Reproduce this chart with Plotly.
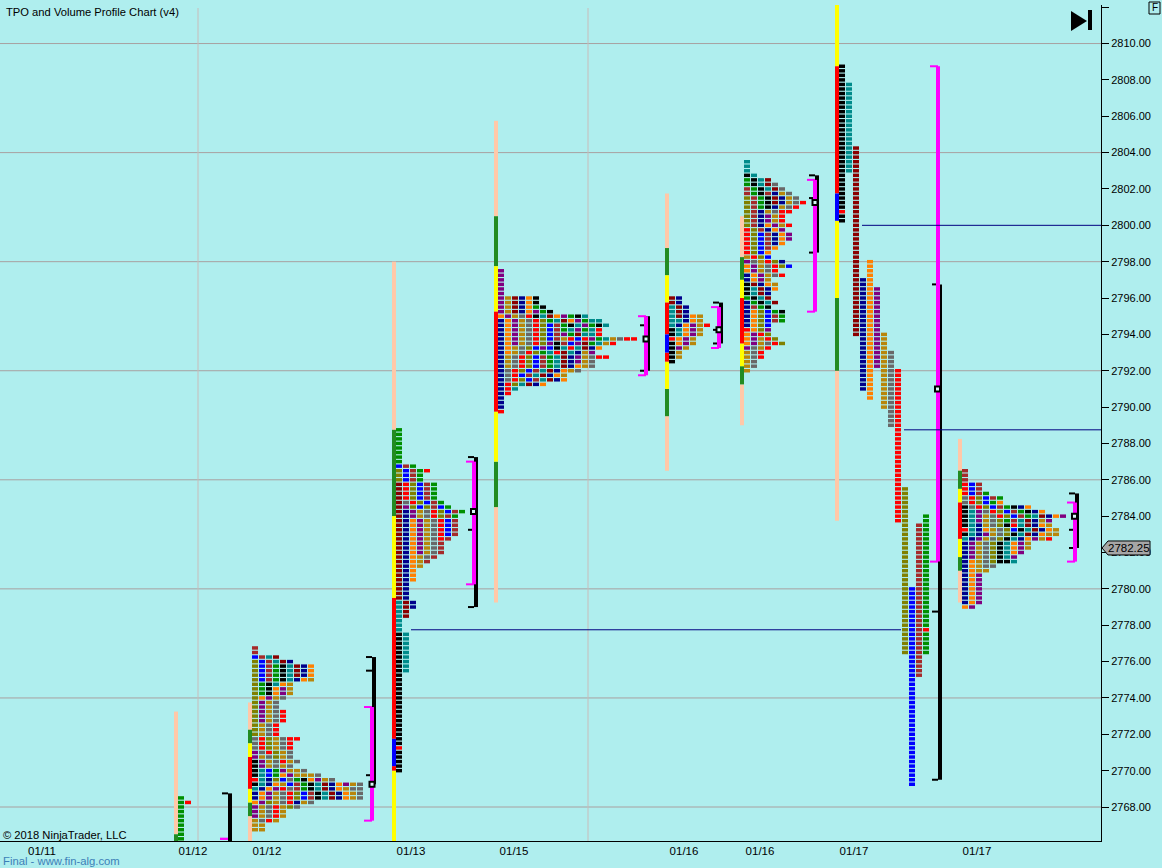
import plotly.graph_objects as go

# ---------- data ----------
W, H = 1162, 868
L, R, T, B = 0, 61, 5, 27
PLOT_W = W - L - R
PLOT_H = H - T - B
Y_MIN, Y_MAX = 2766.13, 2812.12
ROW = 0.25
CELL_PITCH = 7
CELL_W = 6
STRIP_W = 4

y_tick_vals = [2768 + 2 * i for i in range(23)]
y_tick_text = [f"{v:.2f}" for v in y_tick_vals[:-1]] + [""]
grid_prices = [2768, 2774, 2780, 2786, 2792, 2798, 2804, 2810]
session_lines = [198, 588]
date_pos = [42, 193, 267, 411, 514, 684, 760, 854, 977]
date_text = ["01/11", "01/12", "01/12", "01/13", "01/15", "01/16", "01/16", "01/17", "01/17"]

COLORS = {
    "K": "#000000", "R": "#FF0000", "B": "#0000FF", "N": "#00008B", "T": "#008B8B",
    "M": "#8B0000", "A": "#A52A2A", "O": "#FF8000", "P": "#800080", "D": "#B8860B",
    "G": "#696969", "V": "#808000", "E": "#008F00",
}
STRIP = {"S": "#FFC8A8", "F": "#228B22", "Y": "#FFFF00", "R": "#FF0000", "B": "#0000FF"}

profile_x = [174, 248, 392, 494, 665, 740, 835, 958]
profile_top = [2768.5, 2776.75, 2788.75, 2797.5, 2796.0, 2803.5, None, 2786.5]

rows_p1 = ["E", "ER"] + ["E"] * 8
rows_p2 = ["A", "A", "BATM", "VBATMN", "VBAEKTMNO", "VBAEKTMNO", "VBAEKTMNO", "VBAEKTNOD",
           "VEKTOD", "VEKOPD", "VEKOPD", "VOPDG", "VPDG", "VPDG", "VPDGR", "VPDGR", "VPDGR",
           "VDGR", "VDGR", "VDGR", "GRVDGRR", "GRVDGR", "GRVDGR", "PGRVDG", "PDGVDG",
           "KPDGRDG", "KPDGDG", "KTBEPDDG", "KTBEOPDDDG", "RTNVBGEKOPDG",
           "KTNODBAEKTMNOPDG", "TNOPRGAEKTMNODGG", "NOPDGRVBAKTMNODG", "NOPDGRVBAKTMNODG",
           "OPVDGRNDG", "PDGRDVG", "PDGRD", "PDGRD", "DGRD", "DD", "DD"]
rows_p3 = (["E"] * 8 + ["BAE", "VBAER", "VBAE", "VBAE"] + ["MRVBAE"] * 4 +
           ["MGRVBAE", "MPVBVABE", "MNPDGRVBAE", "MNPDGRVAE"] + ["MNOPDGRBA"] * 4 +
           ["MNOPDGRA"] + ["MNOPDGA"] * 3 + ["MNODGA", "MNODA", "MNOD"] + ["MNO"] * 3 +
           ["MN"] * 4 + ["TMN", "TMN", "TM", "TM", "T", "T", "T"] + ["KT"] * 9 +
           ["K"] * 16 + ["R"] + ["K"] * 5)
rows_p4 = (["P"] * 6 + ["PDMNOK", "PDMNOK", "PDMNOEK", "PDMNOPEK", "OPDGRKTMOPEKT",
            "NOPDGRVETMOPETT", "NOPDGRVBAEKTPEKT", "NOPDGRVBAETPETR", "NOPDGRVBAPEMTTR",
            "NOPDGRVBADRBRPETDGRR", "NOPDGRVPKABPMETDR", "NODGVBPBKTRTMNO",
            "NODGRVETRMTNDP", "NDGRVBAETMNPDGRR", "NDGRVBAETMNPDG",
            "NDGRVBAETMNODG", "NGRVBATMNODG", "NGRBATMNOD", "NGRVBATMNO", "NRVTMNO",
            "NRT", "NR", "N", "N", "N", "R"])
rows_p5 = ["MN", "MN", "TMN", "TMN", "TMNOD", "TTNOD", "TNOPDR", "KTOPD", "KTOPD", "ROPD",
           "KOPD", "KPD", "KD", "KD", "K"]
rows_p6 = ["T", "T", "T", "KT", "EKTM", "EKTMG", "AEKTMG", "AEKANDG", "VAEKMNDG", "VAEKMNDGR",
           "VAEKNDGR", "VANDGRR", "VANPDR", "VANPDR", "VANOPDR", "RVANOP", "RVBANOP", "RVBANOP",
           "RVBANO", "RVBAO", "RVBO", "DRVB", "PGDRVN", "OPDGRVB", "OPDGR", "NOPDGR", "NOPD",
           "KMNOD", "KTMNO", "KTMN", "EKTM", "NEKTM", "NAEK", "NOVBEK", "NOVBAE", "NOVBAE",
           "NOVB", "ROVP", "OPRV", "OPDRV", "OPDGRV", "PGDR", "DGR", "DGR", "DG", "DG", "D"]
rows_p8 = ["A", "A", "A", "RBA", "RBA", "RBAE", "GRVBAE", "GRVBEO", "KGRVBAEKNO", "KTPGRVBAEKNO",
           "KTPDGRVBAETMNOP", "KTPDGVEATMNDP", "KTNDGVKRTMNOD", "RTNODGVBKTMNOD", "KTNPDGVKTMNODD",
           "TNPDGVKTNOPDR", "NPDGVKTOPD", "NPDGVKTOPD", "NPDGVKTOP", "NPDGVKTP", "NODGVKKT",
           "NODGG", "NODD"] + ["NOP"] * 7 + ["OP"]
profile_rows = [rows_p1, rows_p2, rows_p3, rows_p4, rows_p5, rows_p6, None, rows_p8]

# long single-print profile, stored as column runs (colour, top price, bottom price)
p7_runs = [("K", 2808.75, 2800.25), ("T", 2807.75, 2803.0), ("M", 2804.25, 2794.0),
           ("N", 2797.0, 2791.0), ("O", 2798.0, 2790.5), ("P", 2796.5, 2792.25),
           ("D", 2794.0, 2790.0), ("G", 2793.0, 2789.0), ("R", 2792.0, 2783.75),
           ("V", 2785.5, 2776.5), ("B", 2780.0, 2769.25), ("A", 2783.5, 2775.25),
           ("E", 2784.0, 2776.5)]
p7_odd_cells = [(0, 2800.75, "R"), (12, 2777.75, "R")]

# colour strip at the left of each profile: price breakpoints and the colour between them
strip_breaks = [
    [2773.25, 2766.5, 2766.0],
    [2773.75, 2772.25, 2771.5, 2770.75, 2769.0, 2768.25, 2767.5, 2766.0],
    [2798.0, 2788.75, 2784.0, 2779.5, 2771.75, 2770.25, 2770.0, 2766.0],
    [2805.75, 2800.5, 2797.75, 2795.25, 2789.75, 2787.0, 2784.5, 2779.25],
    [2801.75, 2798.75, 2797.25, 2795.75, 2794.0, 2793.0, 2792.5, 2791.0, 2789.5, 2786.5],
    [2800.5, 2798.25, 2797.0, 2796.0, 2793.5, 2792.25, 2791.25, 2789.0],
    [2812.25, 2808.75, 2801.75, 2800.25, 2796.0, 2792.0, 2783.75],
    [2788.25, 2786.5, 2785.5, 2784.75, 2782.75, 2781.75, 2781.0, 2779.25],
]
strip_colors = ["SF", "SFYRYFS", "SFYRBRY", "SFYRYFS", "SFYRBRYFS", "SFYRYFS", "YRBYFS", "SFYRYFS"]

# brackets: x of left edge, top, bottom, tick prices
black_x = [228, 372, 474, 646, 719, 815, 938, 1075]
black_top = [2768.75, 2776.25, 2787.25, 2795.0, 2795.75, 2802.75, 2796.75, 2785.25]
black_bot = [2766.0, 2769.25, 2779.0, 2792.0, 2793.5, 2798.5, 2769.5, 2782.25]
black_ticks = [[2768.75], [2776.25, 2775.5, 2769.75], [2787.25, 2783.25, 2779.0], [2794.5, 2792.0],
               [2795.75, 2794.25, 2793.5], [2802.75, 2801.5, 2798.5], [2796.75, 2778.75, 2769.5],
               [2785.25, 2783.25, 2782.25]]
magenta_x = [226, 370, 472, 644, 717, 813, 936, 1073]
magenta_top = [2766.25, 2773.5, 2787.0, 2795.0, 2795.5, 2802.5, 2808.75, 2784.75]
magenta_bot = [2766.25, 2767.25, 2780.25, 2791.75, 2793.25, 2795.25, 2781.5, 2781.5]
poc_x = [372, 473.5, 646, 719, 815, 937.5, 1074.5]
poc_price = [2769.25, 2784.25, 2793.75, 2794.25, 2801.25, 2791.0, 2784.0]

naked_start = [862, 904, 411]
naked_end = [1101, 1101, 901]
naked_price = [2800.0, 2788.75, 2777.75]

last_price = 2782.25

# ---------- cells ----------
cells = {c: ([], []) for c in COLORS}
def add_cell(px0, k, price, code):
    cells[code][0].append(px0 + STRIP_W + CELL_PITCH * k)
    cells[code][1].append(price)

for x0, top, rows in zip(profile_x, profile_top, profile_rows):
    if rows is None:
        continue
    for i, row in enumerate(rows):
        for k, code in enumerate(row):
            add_cell(x0, k, top - i * ROW, code)

odd = {(k, p): c for k, p, c in p7_odd_cells}
for k, (code, top, bot) in enumerate(p7_runs):
    n = int(round((top - bot) / ROW)) + 1
    for i in range(n):
        p = top - i * ROW
        add_cell(profile_x[6], k, p, odd.get((k, p), code))

fig = go.Figure()

# colour strips
strip_lines = {c: ([], []) for c in STRIP}
for x0, brk, cols in zip(profile_x, strip_breaks, strip_colors):
    for a, b, c in zip(brk[:-1], brk[1:], cols):
        strip_lines[c][0].extend([x0 + STRIP_W / 2, x0 + STRIP_W / 2, None])
        strip_lines[c][1].extend([a, b, None])
for c, (xs, ys) in strip_lines.items():
    fig.add_trace(go.Scatter(x=xs, y=ys, mode="lines", line=dict(color=STRIP[c], width=STRIP_W),
                             hoverinfo="skip", showlegend=False))

# TPO cells
for code, (xs, ys) in cells.items():
    fig.add_trace(go.Bar(y=ys, x=[CELL_W] * len(xs), base=xs, orientation="h", width=0.19,
                         marker=dict(color=COLORS[code], line=dict(width=0)),
                         hoverinfo="skip", showlegend=False))

# brackets
def bracket(xs_left, tops, bots):
    xs, ys = [], []
    for x, t, b in zip(xs_left, tops, bots):
        xs += [x + 2, x + 2, None]
        ys += [t, b, None]
    return xs, ys

bx, by = bracket(black_x, black_top, black_bot)
fig.add_trace(go.Scatter(x=bx, y=by, mode="lines", line=dict(color="#000000", width=4),
                         hoverinfo="skip", showlegend=False))
tx, ty = [], []
for x, ticks in zip(black_x, black_ticks):
    for p in ticks:
        tx += [x - 6, x, None]
        ty += [p, p, None]
fig.add_trace(go.Scatter(x=tx, y=ty, mode="lines", line=dict(color="#000000", width=2),
                         hoverinfo="skip", showlegend=False))
mx, my = bracket(magenta_x, magenta_top, magenta_bot)
fig.add_trace(go.Scatter(x=mx, y=my, mode="lines", line=dict(color="#FF00FF", width=4),
                         hoverinfo="skip", showlegend=False))
cx, cy = [], []
for x, t, b in zip(magenta_x, magenta_top, magenta_bot):
    cx += [x - 6, x + 2, None, x - 6, x + 2, None]
    cy += [t, t, None, b, b, None]
fig.add_trace(go.Scatter(x=cx, y=cy, mode="lines", line=dict(color="#FF00FF", width=2),
                         hoverinfo="skip", showlegend=False))

# naked POC lines
nx, ny = [], []
for a, b, p in zip(naked_start, naked_end, naked_price):
    nx += [a, b, None]
    ny += [p, p, None]
fig.add_trace(go.Scatter(x=nx, y=ny, mode="lines", line=dict(color="#000080", width=1),
                         hoverinfo="skip", showlegend=False))

# POC boxes
fig.add_trace(go.Scatter(x=poc_x, y=poc_price, mode="markers",
                         marker=dict(symbol="square", size=5, color="#D8F8F8",
                                     line=dict(color="#000000", width=2)),
                         hoverinfo="skip", showlegend=False))

def px_x(x):
    return (x - L) / PLOT_W
def px_y(y):
    return (H - B - y) / PLOT_H

shapes = []
for p in grid_prices:
    shapes.append(dict(type="line", xref="paper", yref="y", x0=0, x1=1, y0=p, y1=p,
                       line=dict(color="#A8A0A0", width=1), layer="below"))
for x in session_lines:
    shapes.append(dict(type="line", xref="x", yref="paper", x0=x, x1=x, y0=0, y1=px_y(8),
                       line=dict(color="#C8BCBA", width=1), layer="below"))

# last-price tag
dy = 0.385
tag = (f"M {px_x(1102)},{last_price} L {px_x(1108)},{last_price + dy} L {px_x(1150)},{last_price + dy} "
       f"L {px_x(1150)},{last_price - dy} L {px_x(1108)},{last_price - dy} Z")
shapes.append(dict(type="path", xref="paper", yref="y", path=tag, fillcolor="#A6A6A6",
                   line=dict(color="#000000", width=1), layer="above"))
# end-of-chart icon
shapes.append(dict(type="path", xref="paper", yref="paper", fillcolor="#000000", line=dict(width=0),
                   path=f"M {px_x(1071)},{px_y(11)} L {px_x(1087)},{px_y(21)} L {px_x(1071)},{px_y(31)} Z"))
shapes.append(dict(type="rect", xref="paper", yref="paper", fillcolor="#000000", line=dict(width=0),
                   x0=px_x(1088), x1=px_x(1092), y0=px_y(30), y1=px_y(10)))
# F box
shapes.append(dict(type="rect", xref="paper", yref="paper", line=dict(color="#000000", width=1),
                   x0=px_x(1149), x1=px_x(1160), y0=px_y(14), y1=px_y(2)))

FONT = "Liberation Sans"
def label(x, y, text, size=11, color="#000000", xanchor="left"):
    return dict(x=px_x(x), y=px_y(y), xref="paper", yref="paper", text=text, showarrow=False,
                xanchor=xanchor, yanchor="middle", font=dict(family=FONT, size=size, color=color),
                borderpad=0, borderwidth=0)

annotations = [
    label(6, 12, "TPO and Volume Profile Chart (v4)", 11.2),
    label(3, 835, "© 2018 NinjaTrader, LLC", 11.2),
    label(3, 861, "Final - www.fin-alg.com", 11.3, "#3C7FB8"),
    label(1154.5, 8, "F", 10, xanchor="center"),
    dict(x=px_x(1129), y=last_price, xref="paper", yref="y", text=f"{last_price:.2f}", showarrow=False,
         xanchor="center", yanchor="middle", font=dict(family=FONT, size=11.5, color="#000000")),
]

fig.update_layout(
    width=W, height=H, margin=dict(l=L, r=R, t=T, b=B, pad=0, autoexpand=False),
    paper_bgcolor="#AFEEEE", plot_bgcolor="#AFEEEE", barmode="overlay", showlegend=False,
    font=dict(family=FONT, size=11, color="#000000"),
    shapes=shapes, annotations=annotations,
    xaxis=dict(range=[0, PLOT_W], showgrid=False, zeroline=False, showline=True, linecolor="#000000",
               linewidth=1, ticks="", tickmode="array", tickvals=date_pos, ticktext=date_text,
               ticklabelstandoff=-1,
               tickfont=dict(family=FONT, size=11.5, color="#000000"), fixedrange=True),
    yaxis=dict(range=[Y_MIN, Y_MAX], side="right", showgrid=False, zeroline=False, showline=True,
               linecolor="#000000", linewidth=1, ticks="outside", ticklen=7, tickwidth=1, tickcolor="#000000",
               tickmode="array", tickvals=y_tick_vals, ticktext=y_tick_text,
               tickfont=dict(family=FONT, size=11, color="#000000"), fixedrange=True),
)

fig.write_html("out.html", post_script="document.body.style.margin='0';",
               config={"displayModeBar": False})
